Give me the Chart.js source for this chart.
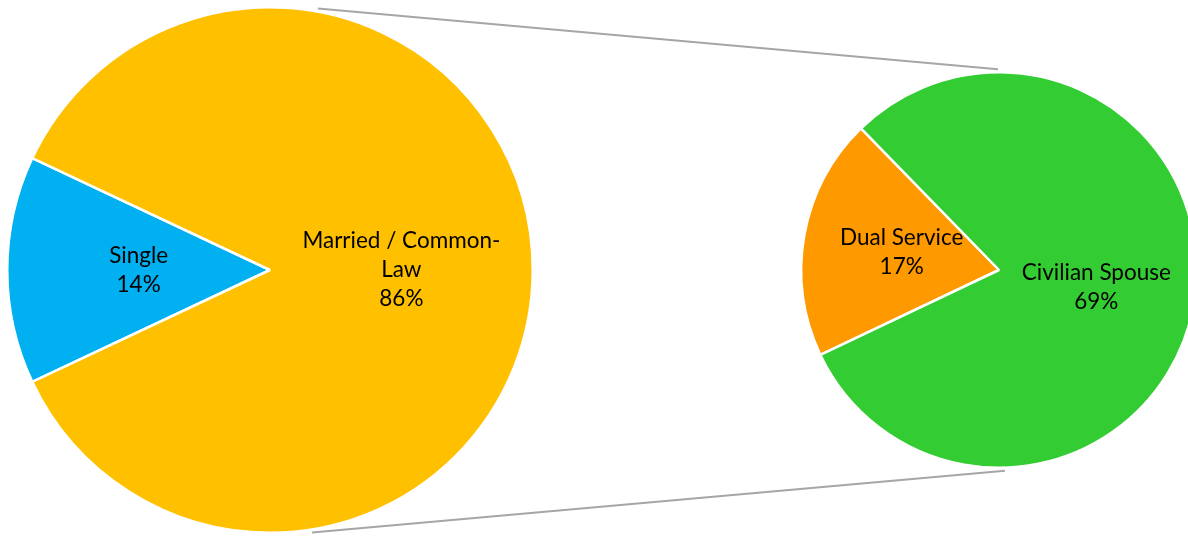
<!DOCTYPE html>
<html>
<head>
<meta charset="utf-8">
<script src="https://cdn.jsdelivr.net/npm/chart.js@4.4.1/dist/chart.umd.min.js"></script>
<style>
  html, body { margin:0; padding:0; background:#fff; overflow:hidden; width:1188px; height:536px; }
  #wrap { position:relative; width:1200px; height:536px; }
  canvas { position:absolute; left:0; top:0; }
</style>
</head>
<body>
<div id="wrap">
  <canvas id="left" width="1200" height="536"></canvas>
  <canvas id="right" width="1200" height="536"></canvas>
</div>
<script>
// ---- data ----
const mainLabels = [['Single'], ['Married / Common-', 'Law']];
const mainValues = [14, 86];
const mainColors = ['#00B0F0', '#FFC000'];

const subLabels = [['Dual Service'], ['Civilian Spouse']];
const subValues = [17, 69];
const subColors = ['#FF9900', '#33CC33'];

const FONT = '22.5px Lato, "Open Sans", sans-serif';
const LINE_H = 29;

const labelPlugin = {
  id: 'sliceLabels',
  afterDatasetsDraw(chart) {
    const ctx = chart.ctx;
    const meta = chart.getDatasetMeta(0);
    const labels = chart.data.labels;
    const vals = chart.data.datasets[0].data;
    ctx.save();
    ctx.font = FONT;
    ctx.fillStyle = '#000';
    ctx.textAlign = 'center';
    ctx.textBaseline = 'middle';
    meta.data.forEach((arc, i) => {
      const mid = (arc.startAngle + arc.endAngle) / 2;
      const r = arc.outerRadius * 0.5;
      const cx = arc.x + Math.cos(mid) * r;
      const cy = arc.y + Math.sin(mid) * r;
      const lines = labels[i].concat([vals[i] + '%']);
      const top = cy - (lines.length - 1) * LINE_H / 2;
      lines.forEach((t, k) => ctx.fillText(t, cx, top + k * LINE_H));
    });
    ctx.restore();
  }
};

const leftChart = new Chart(document.getElementById('left'), {
  type: 'pie',
  data: {
    labels: mainLabels,
    datasets: [{ data: mainValues, backgroundColor: mainColors, borderColor: '#fff', borderWidth: 2.5 }]
  },
  options: {
    responsive: false, animation: false,
    rotation: 270 - (mainValues[0] / (mainValues[0] + mainValues[1])) * 180,
    layout: { padding: { left: 6, top: 6, right: 666, bottom: 2 } },
    plugins: { legend: { display: false }, tooltip: { enabled: false } }
  },
  plugins: [labelPlugin]
});

const connectors = { offset: 3, leftTop: -79.6, rightTop: -90.3, leftBottom: 80.9, rightBottom: 88.3 };

const connectorPlugin = {
  id: 'connectors',
  beforeDatasetsDraw(chart) {
    const a = leftChart.getDatasetMeta(0).data[0];
    const b = chart.getDatasetMeta(0).data[0];
    const pt = (arc, deg) => {
      const rad = deg * Math.PI / 180;
      const r = arc.outerRadius + connectors.offset;
      return [arc.x + Math.cos(rad) * r, arc.y + Math.sin(rad) * r];
    };
    const ctx = chart.ctx;
    ctx.save();
    ctx.strokeStyle = '#A6A6A6';
    ctx.lineWidth = 2;
    [[connectors.leftTop, connectors.rightTop], [connectors.leftBottom, connectors.rightBottom]].forEach(([la, ra]) => {
      const p = pt(a, la), q = pt(b, ra);
      ctx.beginPath();
      ctx.moveTo(p[0], p[1]);
      ctx.lineTo(q[0], q[1]);
      ctx.stroke();
    });
    ctx.restore();
  }
};

const subTotal = subValues[0] + subValues[1];
new Chart(document.getElementById('right'), {
  type: 'pie',
  data: {
    labels: subLabels,
    datasets: [{ data: subValues, backgroundColor: subColors, borderColor: '#fff', borderWidth: 2.5 }]
  },
  options: {
    responsive: false, animation: false,
    rotation: 280.15 - (subValues[0] / subTotal) * 180,
    layout: { padding: { left: 800, top: 71, right: 2, bottom: 67 } },
    plugins: { legend: { display: false }, tooltip: { enabled: false } }
  },
  plugins: [connectorPlugin, labelPlugin]
});
</script>
</body>
</html>
